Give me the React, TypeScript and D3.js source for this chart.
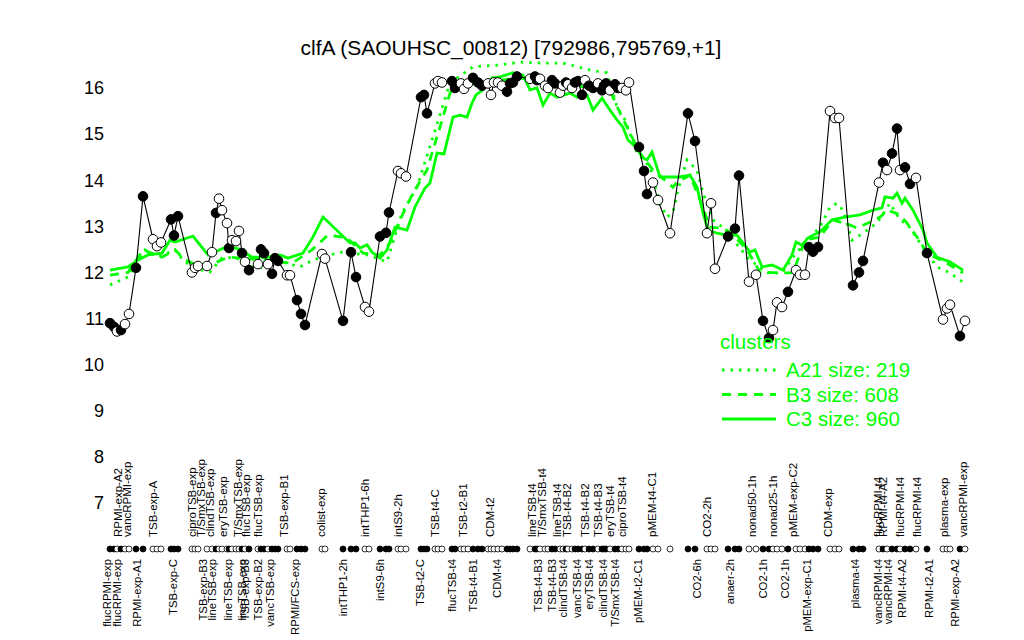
import * as d3 from "d3";
import { useEffect, useRef } from "react";

const width = 1024,
  height = 640,
  plotLeft = 100,
  plotRight = 972,
  plotTop = 88,
  plotBottom = 503,
  dotRowY = 549;

const title = "clfA (SAOUHSC_00812) [792986,795769,+1]";
const yTicks = [7, 8, 9, 10, 11, 12, 13, 14, 15, 16];

// probe positions along the condition axis, expression values, filled (1) / open (0)
const pointPos = [
  2.5, 3.5, 4.25, 5.25, 6.25, 7.25, 9, 10.75,
  13.25, 14.25, 15.25,
  17.75, 18.5, 19.5,
  23, 23.75, 24.5,
  26.75, 28, 29, 29.75, 30.5, 31.75, 32.25, 33, 34, 34.75, 35.5, 36.25, 37.25,
  39.5, 40.25, 41, 42, 43, 43.75, 44.5,
  46.75, 47.5,
  49.25, 50.25, 51.25,
  55.5, 56.25,
  60.75, 62.75, 64,
  66.25, 67.25,
  70, 71.5, 72.25,
  74.5, 75.25, 76.5,
  80.25, 81, 81.75,
  83.75, 84.5, 85.5,
  88, 88.75,
  90.25, 91, 92,
  93.25, 94.5, 95.5,
  97, 97.75, 98.5, 99.5, 100.5,
  101.75, 102.5, 103.25, 104.25,
  107.5, 108.75, 109.25, 110, 111.25, 112, 113, 113.75, 115, 115.75, 116.5,
  117, 118, 118.75, 119.5, 120.5, 121.25, 122.25, 123.25, 124.5, 125.5, 126,
  126.5, 127.5, 128.75, 129.5, 130.5, 131.5, 132.25,
  134.75, 136, 136.75,
  138.25, 139.5,
  142.5,
  147, 148.75,
  151.75, 152.75, 153.75,
  157, 158.75, 159.75,
  162.25, 164,
  165.75, 167.25,
  168.25, 169.25, 170.5,
  172,
  174, 175, 176.25,
  177.25, 178.25, 179.5,
  182.5, 183.75, 184.75,
  188.25, 189.75, 190.75,
  194.75, 195.75, 196.75, 198, 199.25, 200, 201.25, 202.5, 204,
  206.75,
  210.75, 211.75, 212.5,
  215, 216.25,
];
const pointVal = [
  10.9, 10.82, 10.72, 10.75, 10.88, 11.1, 12.1, 13.65,
  12.72, 12.57, 12.65,
  13.15, 12.8, 13.22,
  12.0, 12.1, 12.14,
  12.14, 12.44, 13.29, 13.6, 13.35, 13.07, 12.53, 12.7, 12.68, 12.9, 12.42, 12.23, 12.05,
  12.18, 12.5, 12.42, 12.18, 11.97, 12.31, 12.25,
  11.94, 11.94,
  11.4, 11.1, 10.86,
  12.4, 12.3,
  10.95, 12.44, 11.9,
  11.25, 11.15,
  12.78, 12.86, 13.3,
  14.2, 14.15, 14.08,
  15.8, 15.85, 15.45,
  16.1, 16.15, 16.12,
  16.15, 16.0,
  16.1, 15.98, 16.1,
  16.22, 16.12, 16.05,
  16.1, 15.85, 16.12, 16.12, 16.05,
  15.92, 16.1, 16.12, 16.25,
  16.2, 16.25, 16.17, 16.2, 16.05, 16.0, 16.17, 16.1, 15.9, 16.05, 16.12,
  16.08, 16.0, 16.12, 16.15, 15.85, 16.17, 16.05, 16.0, 16.1, 15.95, 16.05,
  16.1, 15.95, 16.08, 16.0, 16.0, 15.95, 16.12,
  14.72, 14.2, 13.7,
  13.95, 13.57,
  12.85,
  15.45, 14.85,
  12.85, 13.5, 12.08,
  12.78, 12.95, 14.1,
  11.8, 11.95,
  10.95, 10.58,
  10.75, 11.35, 11.25,
  11.58,
  12.05, 11.95, 11.95,
  12.55, 12.45, 12.55,
  15.5, 15.35, 15.35,
  11.72, 12.0, 12.25,
  13.95, 14.38, 14.22, 14.58, 15.12, 14.22, 14.28, 13.92, 14.05,
  12.42,
  10.98, 11.22, 11.3,
  10.62, 10.95,
];
const pointFill = [
  1, 1, 0, 1, 0, 0, 1, 1,
  0, 0, 0,
  1, 1, 1,
  0, 0, 0,
  0, 0, 1, 0, 0, 0, 1, 0, 0, 0, 1, 0, 1,
  0, 1, 1, 0, 1, 1, 1,
  0, 0,
  1, 1, 1,
  0, 0,
  1, 1, 1,
  0, 0,
  1, 1, 1,
  0, 0, 0,
  1, 1, 1,
  0, 0, 0,
  1, 1,
  0, 0, 0,
  1, 1, 1,
  0, 0, 0, 0, 0,
  1, 1, 1, 1,
  0, 1, 1, 0, 0, 0, 1, 1, 0, 0, 1,
  0, 0, 1, 1, 1, 0, 1, 1, 0, 1, 1,
  1, 0, 1, 1, 0, 0, 0,
  1, 1, 1,
  0, 0,
  0,
  1, 1,
  0, 0, 0,
  1, 1, 1,
  0, 0,
  1, 1,
  0, 0, 0,
  1,
  0, 0, 0,
  1, 1, 1,
  0, 0, 0,
  1, 1, 1,
  0, 1, 0, 1, 1, 0, 1, 1, 0,
  1,
  0, 0, 0,
  1, 0,
];

const topLabels: [number, string][] = [
  [4.5, "RPMI-exp-A2"], [6.75, "vancRPMI-exp"], [13.25, "TSB-exp-A"],
  [23, "ciproTSB-exp"], [25.25, "T/SmxTSB-exp"], [27.5, "clindTSB-exp"],
  [30.75, "eryTSB-exp"], [34.5, "T/SmxTSB-exp"], [36.5, "flucTSB-exp"],
  [39.5, "flucTSB-exp"], [46, "TSB-exp-B1"], [55.25, "colist-exp"],
  [66.25, "intTHP1-6h"], [74.5, "intS9-2h"], [83.75, "TSB-t4-C"],
  [90.75, "TSB-t2-B1"], [97.5, "CDM-t2"], [108, "lineTSB-t4"],
  [110.5, "T/SmxTSB-t4"], [114.25, "lineTSB-t4"], [116.75, "TSB-t4-B2"],
  [121.25, "TSB-t4-B2"], [124.5, "TSB-t4-B3"], [127.5, "eryTSB-t4"],
  [130.5, "ciproTSB-t4"], [138, "pMEM-t4-C1"], [151.75, "CO2-2h"],
  [163, "nonad50-1h"], [168.25, "nonad25-1h"], [173.25, "pMEM-exp-C2"],
  [182, "CDM-exp"], [194.5, "flucRPMI-t4"], [195.75, "RPMI-t4-A2"],
  [200, "flucRPMI-t4"], [204.25, "flucRPMI-t4"], [211, "plasma-exp"],
  [215.75, "vancRPMI-exp"],
];
const bottomLabels: [number, string][] = [
  [1.75, "flucRPMI-exp"], [4.25, "flucRPMI-exp"], [9.25, "RPMI-exp-A1"],
  [18.25, "TSB-exp-C"], [25.75, "TSB-exp-B3"], [28, "lineTSB-exp"],
  [32, "lineTSB-exp"], [35.5, "lineTSB-exp"], [36.25, "TSB-exp-B3"],
  [39.5, "TSB-exp-B2"], [42.5, "vancTSB-exp"], [48.75, "RPMI/FCS-exp"],
  [60.75, "intTHP1-2h"], [70, "intS9-6h"], [80, "TSB-t2-C"],
  [88, "flucTSB-t4"], [93.25, "TSB-t4-B1"], [99.25, "CDM-t4"],
  [109.5, "TSB-t4-B3"], [113, "TSB-t4-B3"], [115.75, "clindTSB-t4"],
  [119.25, "vancTSB-t4"], [122.25, "eryTSB-t4"], [125.75, "clindTSB-t4"],
  [128.75, "T/SmxTSB-t4"], [134.5, "pMEM-t2-C1"], [149.25, "CO2-6h"],
  [157.5, "anaer-2h"], [165.75, "CO2-1h"], [171.25, "CO2-1h"],
  [176.75, "pMEM-exp-C1"], [188.75, "plasma-t4"], [194.5, "vancRPMI-t4"],
  [197, "vancRPMI-t4"], [200.5, "RPMI-t4-A2"], [207.25, "RPMI-t2-A1"],
  [213.75, "RPMI-exp-A2"],
];

// cluster mean profiles
const clusterA21: [number, number][] = [
  [2.5, 11.73], [7, 11.9], [11.25, 12.49], [14.5, 12.33], [18.75, 12.49],
  [20.75, 12.27], [23.25, 12.1], [27.5, 12.01], [30.5, 12.31], [33.75, 12.33],
  [38, 12.12], [41.25, 12.1], [45.5, 12.23], [50, 12.12], [53.25, 12.27],
  [60, 12.44], [66.75, 12.38], [71.75, 12.23], [75.5, 13.29], [79.25, 13.85],
  [83.25, 14.94], [87.5, 16.11], [93.25, 16.46], [100, 16.5], [105, 16.56],
  [110.75, 16.54], [115.75, 16.54], [122.5, 16.39], [126.75, 16.33],
  [129.25, 15.59], [131.25, 15.31], [134.25, 14.59], [137.5, 14.29],
  [140, 13.5], [141.75, 13.2], [143.25, 13.31], [144.5, 13.79], [146.75, 14.44],
  [149.25, 14.22], [150.75, 13.72], [153.25, 13.14], [155.75, 12.98],
  [162, 12.31], [166.75, 11.99], [170.5, 11.99], [173.25, 12.33],
  [176.75, 12.7], [180, 12.98], [182.5, 13.42], [184.25, 13.5], [185.75, 13.35],
  [188, 12.7], [190.75, 12.85], [194.25, 13.07], [197.5, 13.5], [200, 13.14],
  [202, 13.03], [205, 12.64], [209.25, 12.12], [212.5, 11.99], [215.75, 11.79],
];
const clusterB3: [number, number][] = [
  [2.5, 11.94], [7, 12.0], [10.75, 12.49], [15.5, 12.33], [18.75, 12.49],
  [21.25, 12.27], [23.25, 12.2], [27.5, 12.16], [32, 12.33], [35.5, 12.31],
  [40.5, 12.27], [43.75, 12.23], [48, 12.2], [53, 12.49], [57, 12.81],
  [61.75, 12.75], [65.75, 12.42], [70, 12.38], [72.5, 12.64], [75, 13.14],
  [78.25, 13.72], [81.75, 14.22], [83.25, 14.66], [85, 15.15], [86.25, 15.52],
  [87.5, 15.89], [89.25, 16.13], [95, 16.07], [100, 16.17], [105, 16.22],
  [111.25, 16.11], [118.75, 16.04], [126.25, 16.0], [128, 15.85], [130, 15.46],
  [132.5, 15.02], [135, 14.59], [138.25, 14.22], [143.25, 13.85],
  [144.25, 13.96], [147.5, 14.11], [150, 13.57], [152.5, 12.98],
  [155.75, 12.96], [157.5, 12.88], [161.75, 12.49], [165, 12.01],
  [169.25, 11.99], [173.25, 11.99], [176.25, 12.7], [180, 12.77],
  [183.25, 13.14], [187.5, 13.03], [189.25, 12.96], [192, 13.07], [195, 13.2],
  [197, 13.35], [200, 13.25], [201.75, 13.07], [204.25, 12.77],
  [206.75, 12.42], [211.75, 12.2], [215.75, 11.99],
];
const clusterC3: [number, number][] = [
  [2.5, 12.05], [7, 12.12], [9.5, 12.27], [12, 12.38], [15.5, 12.42],
  [17.5, 12.7], [18.75, 12.66], [23.25, 12.79], [27, 12.38], [32, 12.57],
  [35, 12.5], [38, 12.33], [42, 12.33], [45, 12.38], [47, 12.31],
  [50.75, 12.42], [53.25, 12.77], [55.75, 13.2], [62.5, 12.64], [63.75, 12.64],
  [65, 12.53], [66.75, 12.6], [68, 12.44], [70, 12.31], [71.75, 12.49],
  [73.75, 12.98], [76.75, 12.92], [78.75, 13.42], [81.25, 13.83], [82.5, 13.94],
  [84.25, 14.59], [86, 14.57], [88.25, 15.37], [90, 15.41], [91.75, 15.37],
  [93, 15.67], [94, 15.85], [95.75, 15.96], [98, 16.22], [100, 16.24],
  [103.25, 16.33], [105.75, 16.28], [107.5, 15.96], [109.25, 16.0],
  [110.75, 15.63], [112.5, 15.89], [114.25, 15.8], [117.5, 15.89],
  [119.25, 15.8], [121.75, 15.85], [123.25, 15.52], [125.5, 15.78],
  [127.5, 15.52], [129.25, 15.31], [130.75, 15.15], [132, 14.87],
  [134.25, 14.7], [135.5, 14.5], [136.75, 14.44], [138, 14.61], [140, 14.07],
  [145, 14.07], [147.5, 14.11], [149.25, 13.85], [150.75, 13.29], [152, 12.92],
  [154.25, 12.85], [156.75, 12.81], [159.25, 12.81], [160.75, 12.64],
  [162.5, 12.44], [163.75, 12.49], [165.5, 12.12], [168, 12.16],
  [170.75, 12.05], [173, 12.38], [174, 12.66], [175.5, 12.59], [177, 12.75],
  [180, 12.88], [183, 13.14], [186.25, 13.2], [190, 13.25], [193.25, 13.35],
  [195.5, 13.4], [196.25, 13.64], [198.25, 13.61], [199.25, 13.72],
  [200.5, 13.5], [201.25, 13.61], [203.25, 13.35], [205.75, 12.92],
  [206.75, 12.64], [209.25, 12.33], [212.5, 12.23], [215.75, 12.05],
];

const clusterNames = ["A21 size: 219", "B3 size: 608", "C3 size: 960"];
const clusterDash = ["2.5 6", "9 7", null];
const green = "#00ff00";
const font = "'Liberation Sans', Arial, Helvetica, sans-serif";

export default function App() {
  const ref = useRef<SVGSVGElement | null>(null);

  useEffect(() => {
    if (!ref.current) return;
    const svg = d3.select(ref.current);
    svg.selectAll("*").remove();

    const x = d3.scaleLinear([0, 218], [plotLeft, plotRight]);
    const y = d3.scaleLinear([7, 16], [plotBottom, plotTop]);

    // title
    svg
      .append("text")
      .attr("x", 511)
      .attr("y", 55)
      .attr("text-anchor", "middle")
      .attr("font-size", 21)
      .text(title);

    // y tick labels (no axis line)
    svg
      .append("g")
      .selectAll("text")
      .data(yTicks)
      .join("text")
      .attr("x", 104)
      .attr("y", (d) => y(d))
      .attr("dy", "0.35em")
      .attr("text-anchor", "end")
      .attr("font-size", 18)
      .text((d) => d);

    // cluster lines
    const cl = d3
      .line<[number, number]>()
      .x((d) => x(d[0]))
      .y((d) => y(d[1]));
    [clusterA21, clusterB3, clusterC3].forEach((c, i) => {
      svg
        .append("path")
        .attr("fill", "none")
        .attr("stroke", green)
        .attr("stroke-width", 2.8)
        .attr("stroke-dasharray", clusterDash[i])
        .attr("d", cl(c));
    });

    // gene profile
    const pts = pointPos.map((p, i) => ({ p, v: pointVal[i], f: pointFill[i] }));
    const pl = d3
      .line<{ p: number; v: number }>()
      .x((d) => x(d.p))
      .y((d) => y(d.v));
    svg
      .append("path")
      .attr("fill", "none")
      .attr("stroke", "black")
      .attr("stroke-width", 1.1)
      .attr("d", pl(pts));
    svg
      .append("g")
      .selectAll("circle")
      .data(pts)
      .join("circle")
      .attr("cx", (d) => x(d.p))
      .attr("cy", (d) => y(d.v))
      .attr("r", 4.8)
      .attr("fill", (d) => (d.f ? "black" : "white"))
      .attr("stroke", "black")
      .attr("stroke-width", 1);

    // condition marker row
    svg
      .append("g")
      .selectAll("circle")
      .data(pts)
      .join("circle")
      .attr("cx", (d) => x(d.p))
      .attr("cy", dotRowY)
      .attr("r", 3)
      .attr("fill", (d) => (d.f ? "black" : "white"))
      .attr("stroke", "black")
      .attr("stroke-width", 0.8);

    // condition labels: above the marker row reading upward, below it ending at the row
    svg
      .append("g")
      .selectAll("text")
      .data(topLabels)
      .join("text")
      .attr("transform", (d) => `translate(${x(d[0])},537) rotate(-90)`)
      .attr("dy", "0.35em")
      .attr("text-anchor", "start")
      .attr("font-size", 11.5)
      .text((d) => d[1]);
    svg
      .append("g")
      .selectAll("text")
      .data(bottomLabels)
      .join("text")
      .attr("transform", (d) => `translate(${x(d[0])},559) rotate(-90)`)
      .attr("dy", "0.35em")
      .attr("text-anchor", "end")
      .attr("font-size", 11.3)
      .text((d) => d[1]);

    // legend
    const lg = svg.append("g").attr("fill", green);
    lg.append("text")
      .attr("x", 720)
      .attr("y", 342)
      .attr("dy", "0.35em")
      .attr("font-size", 20.5)
      .text("clusters");
    clusterNames.forEach((name, i) => {
      const ly = 370 + i * 24.5;
      lg.append("line")
        .attr("x1", 722)
        .attr("x2", 776)
        .attr("y1", ly)
        .attr("y2", ly)
        .attr("stroke", green)
        .attr("stroke-width", 2.8)
        .attr("stroke-dasharray", clusterDash[i]);
      lg.append("text")
        .attr("x", 786)
        .attr("y", ly)
        .attr("dy", "0.35em")
        .attr("font-size", 20.5)
        .text(name);
    });
  }, []);

  return (
    <svg
      ref={ref}
      width={width}
      height={height}
      viewBox={`0 0 ${width} ${height}`}
      style={{ position: "absolute", left: 0, top: 0, background: "white", fontFamily: font }}
    />
  );
}
